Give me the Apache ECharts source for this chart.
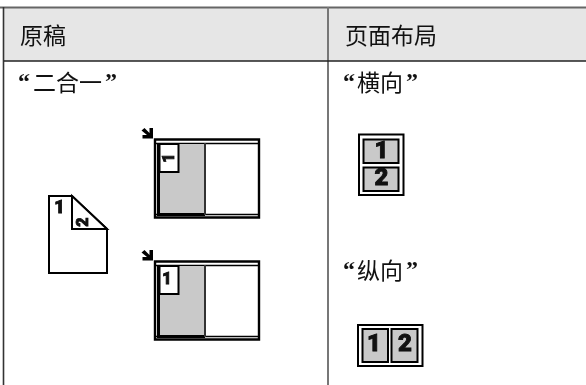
<!DOCTYPE html>
<html><head><meta charset="utf-8">
<style>html,body{margin:0;padding:0;background:#fff}#c{width:586px;height:385px}</style>
<script src="https://cdn.jsdelivr.net/npm/echarts@6/dist/echarts.min.js"></script>
</head><body><div id="c"></div>
<script>
const headers = ['原稿', '页面布局'];
const modeLabel = '二合一';
const layoutLabels = ['横向', '纵向'];
const pageNumbers = ['1', '2'];

const CJK = '"Noto Sans CJK SC"', NUM = 'Roboto', QUOTE = '"Liberation Serif"';
const ink = '#000', grey = '#c9c9c9';
const el = [];
const rect = (x, y, w, h, fill, stroke, lw) => el.push({type:'rect', shape:{x, y, width:w, height:h},
  style:{fill:fill||'none', stroke:stroke||null, lineWidth:lw||0}});
const line = (x1, y1, x2, y2, stroke, lw) => el.push({type:'line', shape:{x1, y1, x2, y2}, style:{stroke, lineWidth:lw}});
const text = (t, x, y, font, size, weight, align, rot) => el.push({type:'text', x, y, rotation:rot||0,
  style:{text:t, fill:'#111', stroke: weight==='900' ? '#000' : null, lineWidth: weight==='900' ? 0.8 : 0,
    font:`${weight||'normal'} ${size}px ${font}`, textAlign:align||'left', textVerticalAlign:'middle'}});
const poly = (points, fill, stroke, lw) => el.push({type:'polygon', shape:{points}, style:{fill, stroke:stroke||null, lineWidth:lw||0, lineJoin:'miter'}});
const quoted = (t, xq, xt, xe, y) => {
  text('“', xq, y + 1, QUOTE, 24, 'bold');
  text(t, xt, y, CJK, 23);
  text('”', xe, y + 1, QUOTE, 24, 'bold');
};

// table frame
rect(4, 8, 582, 53, '#e6e6e6');
line(0, 7.5, 586, 7.5, '#666', 2);
line(3.5, 7, 3.5, 385, '#333', 1.6);
line(328, 7, 328, 385, '#777', 2);
line(4, 61, 586, 61, '#222', 1.6);
text(headers[0], 20, 35, CJK, 23);
text(headers[1], 345, 35, CJK, 23);
quoted(modeLabel, 18, 33, 105, 82);
quoted(layoutLabels[0], 343, 357, 406, 82);
quoted(layoutLabels[1], 343, 357, 406, 270);

// source page
poly([[49,196],[72,196],[107,229],[107,273],[49,273]], '#fff', ink, 2);
poly([[72,196],[72,229],[107,229]], '#fff', ink, 2);
text(pageNumbers[0], 59.5, 208.5, NUM, 18, '900', 'center');
text(pageNumbers[1], 84, 222, NUM, 16, '900', 'center', Math.PI/2);

// scanner glass with arrow
function glass(dy, rot) {
  const ay = 128 + dy;
  poly([[141.5,ay+2.5],[144.5,ay],[149.5,ay+5],[149.5,ay],[153,ay],[153,ay+10.5],[142.5,ay+10.5],[142.5,ay+7],[147,ay+7]], ink);
  rect(155, 139.5 + dy, 104, 78, '#fff', ink, 2.4);
  line(156, 143.5 + dy, 258, 143.5 + dy, ink, 1.6);
  line(156, 214.5 + dy, 258, 214.5 + dy, ink, 1.6);
  rect(159, 144 + dy, 46, 70, grey, null, 0);
  line(158.5, 143 + dy, 158.5, 216 + dy, ink, 3);
  line(158, 214.5 + dy, 205, 214.5 + dy, ink, 3);
  line(205, 143 + dy, 205, 215 + dy, '#333', 2);
  rect(159.5, 144 + dy, 19, 28, '#fff', ink, 2);
  text(pageNumbers[0], rot ? 169.5 : 167, 158 + dy, NUM, 16, '900', 'center', rot);
}
glass(0, Math.PI/2);
glass(122, 0);

// layout thumbnails
rect(359, 134.5, 44.5, 60.5, '#fff', ink, 2);
rect(363.5, 139.5, 35, 23.5, grey, ink, 2);
rect(363.5, 167.5, 35, 23.5, grey, ink, 2);
text(pageNumbers[0], 381.5, 151.5, NUM, 24, '900', 'center');
text(pageNumbers[1], 381.5, 179, NUM, 24, '900', 'center');
rect(358, 325, 64.5, 41, '#fff', ink, 2);
rect(362.5, 329, 25.5, 33, grey, ink, 2);
rect(391.5, 329, 26, 33, grey, ink, 2);
text(pageNumbers[0], 374, 345, NUM, 24, '900', 'center');
text(pageNumbers[1], 405, 345, NUM, 24, '900', 'center');

const chart = echarts.init(document.getElementById('c'), null, {renderer:'canvas'});
chart.setOption({animation:false, backgroundColor:'#fff', graphic:{elements:el}});
</script></body></html>
